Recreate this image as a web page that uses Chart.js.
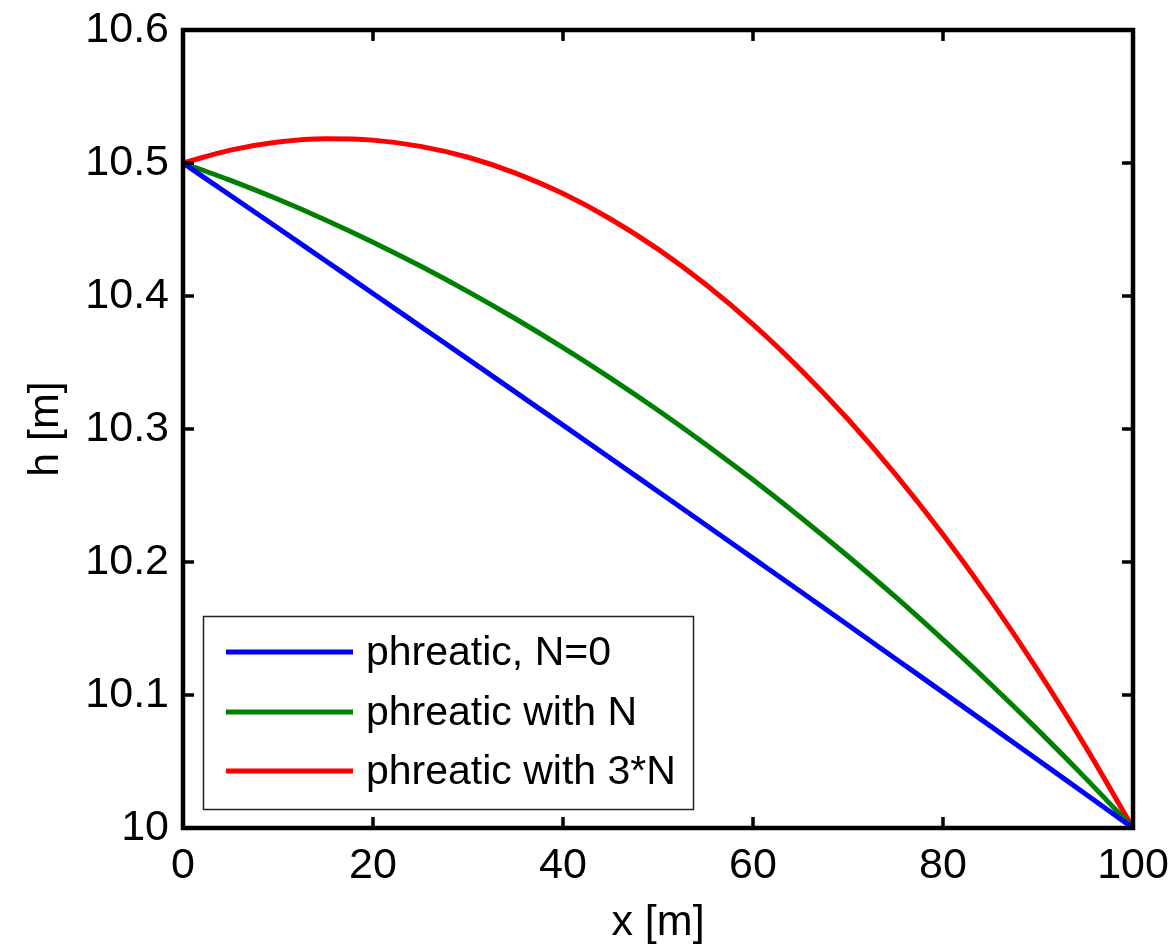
<!DOCTYPE html>
<html>
<head>
<meta charset="utf-8">
<script src="https://cdn.jsdelivr.net/npm/chart.js@4.4.1/dist/chart.umd.min.js"></script>
<style>
  html, body { margin: 0; padding: 0; background: #fff; }
  #wrap { width: 1173px; height: 949px; position: relative; }
</style>
</head>
<body>
<div id="wrap"><canvas id="c" width="1173" height="949"></canvas></div>
<script>
const xValues = [0, 5, 10, 15, 20, 25, 30, 35, 40, 45, 50, 55, 60, 65, 70, 75, 80, 85, 90, 95, 100];
const hNoRecharge = [10.5, 10.4756, 10.4511, 10.4265, 10.4019, 10.3772, 10.3525, 10.3277, 10.3029, 10.2780, 10.2530, 10.2280, 10.2029, 10.1778, 10.1526, 10.1273, 10.1020, 10.0766, 10.0511, 10.0256, 10.0];
const hWithN = [10.5, 10.4869, 10.4727, 10.4572, 10.4405, 10.4225, 10.4033, 10.3829, 10.3612, 10.3383, 10.3141, 10.2886, 10.2618, 10.2337, 10.2043, 10.1737, 10.1416, 10.1083, 10.0736, 10.0375, 10.0];
const hWith3N = [10.5, 10.5097, 10.5158, 10.5183, 10.5172, 10.5125, 10.5043, 10.4924, 10.4770, 10.4579, 10.4352, 10.4088, 10.3787, 10.3448, 10.3073, 10.2659, 10.2206, 10.1715, 10.1184, 10.0612, 10.0];
const seriesLabels = ['phreatic, N=0', 'phreatic with N', 'phreatic with 3*N'];
const seriesColors = ['#0000ff', '#008000', '#ff0000'];
const xTicks = [0, 20, 40, 60, 80, 100];
const yTicks = [10, 10.1, 10.2, 10.3, 10.4, 10.5, 10.6];
const xTitle = 'x [m]';
const yTitle = 'h [m]';

const FONT = '"Liberation Sans", Arial, Helvetica, sans-serif';
const FS = 43;
const LEGEND_FS = 41;

function pts(ys) { return xValues.map((x, i) => ({ x: x, y: ys[i] })); }
const seriesData = [hNoRecharge, hWithN, hWith3N];

const framePlugin = {
  id: 'framePlugin',
  afterDraw(chart) {
    const ctx = chart.ctx;
    const a = chart.chartArea;
    const xs = chart.scales.x, ys = chart.scales.y;
    ctx.save();
    ctx.strokeStyle = '#000';
    ctx.lineWidth = 3.5;
    const tl = 11;
    ctx.beginPath();
    xTicks.forEach(v => {
      const px = Math.round(xs.getPixelForValue(v));
      ctx.moveTo(px, a.bottom); ctx.lineTo(px, a.bottom - tl);
      ctx.moveTo(px, a.top); ctx.lineTo(px, a.top + tl);
    });
    yTicks.forEach(v => {
      const py = Math.round(ys.getPixelForValue(v));
      ctx.moveTo(a.left, py); ctx.lineTo(a.left + tl, py);
      ctx.moveTo(a.right, py); ctx.lineTo(a.right - tl, py);
    });
    ctx.stroke();
    ctx.lineWidth = 4.5;
    ctx.strokeRect(a.left, a.top, a.right - a.left, a.bottom - a.top);

    // legend box
    const bx = 203, by = 616, bw = 490, bh = 193;
    ctx.fillStyle = '#fff';
    ctx.fillRect(bx, by, bw, bh);
    ctx.lineWidth = 1.5;
    ctx.strokeStyle = '#222';
    ctx.strokeRect(bx + 0.5, by + 0.5, bw, bh);
    const rowY = [652, 712, 771];
    ctx.font = LEGEND_FS + 'px ' + FONT;
    ctx.textBaseline = 'middle';
    ctx.textAlign = 'left';
    chart.data.datasets.forEach((ds, i) => {
      ctx.strokeStyle = ds.borderColor;
      ctx.lineWidth = 5;
      ctx.beginPath();
      ctx.moveTo(226, rowY[i]); ctx.lineTo(353, rowY[i]);
      ctx.stroke();
      ctx.fillStyle = '#000';
      ctx.fillText(ds.label, 366, rowY[i] + 2);
    });
    ctx.restore();
  }
};

new Chart(document.getElementById('c'), {
  type: 'line',
  data: {
    datasets: seriesData.map((ys, i) => ({
      label: seriesLabels[i],
      data: pts(ys),
      borderColor: seriesColors[i],
      backgroundColor: seriesColors[i],
      borderWidth: 5,
      pointRadius: 0,
      cubicInterpolationMode: 'monotone',
      fill: false,
      clip: false
    }))
  },
  options: {
    responsive: false,
    animation: false,
    devicePixelRatio: 1,
    layout: { padding: { top: 30, right: 40, left: 0, bottom: 0 } },
    plugins: { legend: { display: false }, tooltip: { enabled: false } },
    scales: {
      x: {
        type: 'linear',
        min: 0, max: 100,
        afterFit(s) { s.height = 121; s.paddingLeft = 0; s.paddingRight = 0; },
        afterBuildTicks(s) { s.ticks = xTicks.map(v => ({ value: v })); },
        grid: { display: false, drawTicks: false },
        border: { display: false },
        ticks: {
          color: '#000',
          font: { family: FONT, size: FS },
          padding: 12,
          maxRotation: 0,
          callback: v => String(v)
        },
        title: {
          display: true, text: xTitle, color: '#000',
          font: { family: FONT, size: FS },
          padding: { top: 0, bottom: 0 }
        }
      },
      y: {
        type: 'linear',
        min: 10, max: 10.6,
        afterFit(s) { s.width = 183; s.paddingTop = 0; s.paddingBottom = 0; },
        afterBuildTicks(s) { s.ticks = yTicks.map(v => ({ value: v })); },
        grid: { display: false, drawTicks: false },
        border: { display: false },
        ticks: {
          color: '#000',
          font: { family: FONT, size: FS },
          padding: 14,
          callback: v => String(Number(v.toFixed(1)))
        },
        title: {
          display: true, text: yTitle, color: '#000',
          font: { family: FONT, size: FS },
          padding: { top: 20, bottom: 0 }
        }
      }
    }
  },
  plugins: [framePlugin]
});
</script>
</body>
</html>
